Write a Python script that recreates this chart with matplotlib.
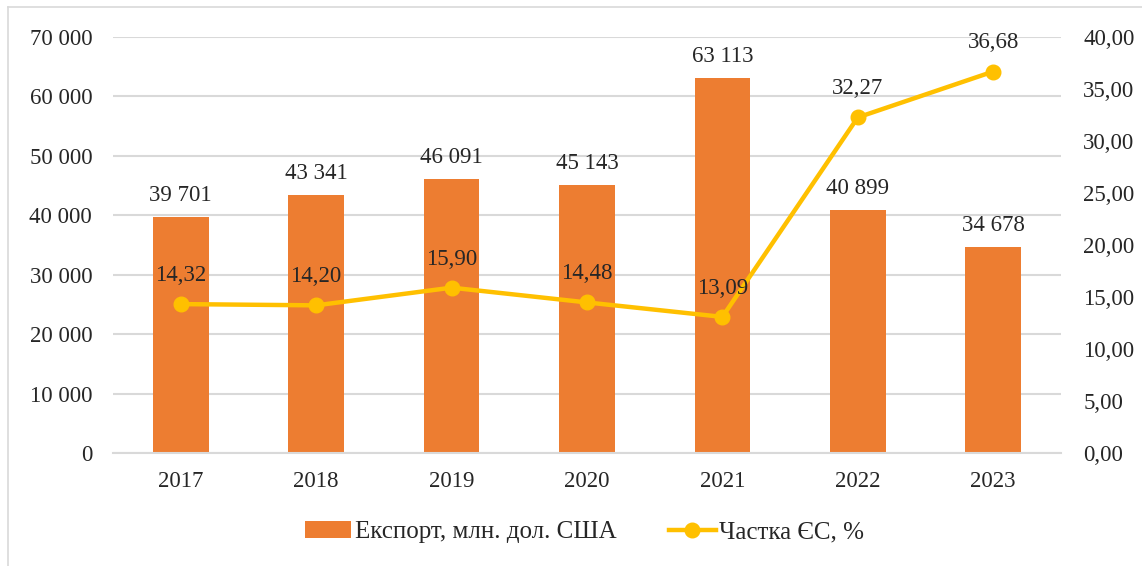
import matplotlib.pyplot as plt
from matplotlib.lines import Line2D
from matplotlib.ticker import FuncFormatter

plt.rcParams['font.family'] = ['Liberation Serif', 'DejaVu Serif']

years = ['2017', '2018', '2019', '2020', '2021', '2022', '2023']
export = [39701, 43341, 46091, 45143, 63113, 40899, 34678]
share = [14.32, 14.20, 15.90, 14.48, 13.09, 32.27, 36.68]

bar_color = '#ED7D31'
line_color = '#FFC000'
grid_color = '#D9D9D9'
text_color = '#262626'
fs = 16.5

fig = plt.figure(figsize=(11.42, 5.66), dpi=100)
ax = fig.add_axes([0.099, 0.1996, 0.830, 0.735])
x = list(range(len(years)))

bars = ax.bar(x, export, width=0.41, color=bar_color, zorder=2,
              label='Експорт, млн. дол. США')
ax.set_ylim(0, 70000)
ax.set_xlim(-0.5, len(years) - 0.5)
ax.set_yticks(range(0, 70001, 10000))
ax.yaxis.set_major_formatter(FuncFormatter(lambda v, p: f'{int(v):,}'.replace(',', ' ')))
ax.set_xticks(x)
ax.set_xticklabels(years)
ax.grid(axis='y', color=grid_color, linewidth=1.5, zorder=0)
for s in ['top', 'right', 'left']:
    ax.spines[s].set_visible(False)
ax.spines['bottom'].set_color(grid_color)
ax.spines['bottom'].set_linewidth(1.5)
ax.tick_params(axis='both', length=0, labelsize=fs, labelcolor=text_color)
ax.tick_params(axis='y', pad=15)
ax.tick_params(axis='x', pad=13)

for xi, v in zip(x, export):
    ax.annotate(f'{v:,}'.replace(',', ' '), (xi, v), xytext=(0, 8),
                textcoords='offset points', ha='center', va='bottom',
                fontsize=fs, color=text_color)

ax2 = ax.twinx()
ax2.plot(x, share, color=line_color, linewidth=3.2, marker='o', markersize=10.5,
         zorder=3, label='Частка ЄС, %')
ax2.set_ylim(0, 40)
ax2.set_yticks(range(0, 41, 5))
ax2.yaxis.set_major_formatter(FuncFormatter(lambda v, p: f'{v:.2f}'.replace('.', ',')))
for s in ['top', 'right', 'left', 'bottom']:
    ax2.spines[s].set_visible(False)
ax2.tick_params(axis='y', length=0, labelsize=fs, labelcolor=text_color, pad=16)

for xi, v in zip(x, share):
    ax2.annotate(f'{v:.2f}'.replace('.', ','), (xi, v), xytext=(0, 13),
                 textcoords='offset points', ha='center', va='bottom',
                 fontsize=fs, color=text_color)

h1, l1 = ax.get_legend_handles_labels()
h2, l2 = ax2.get_legend_handles_labels()
fig.legend(h1 + h2, l1 + l2, loc='center', bbox_to_anchor=(0.512, 0.06), ncol=2,
           frameon=False, fontsize=18, handlelength=1.85, handletextpad=0.15,
           columnspacing=2.1, labelcolor=text_color)

# chart border (top and left edges visible in the crop)
fig.add_artist(Line2D([0.007, 1.0], [0.988, 0.988], transform=fig.transFigure,
                      color=grid_color, linewidth=1.2))
fig.add_artist(Line2D([0.007, 0.007], [0.0, 0.988], transform=fig.transFigure,
                      color=grid_color, linewidth=1.2))

fig.savefig('out.png', dpi=100)
